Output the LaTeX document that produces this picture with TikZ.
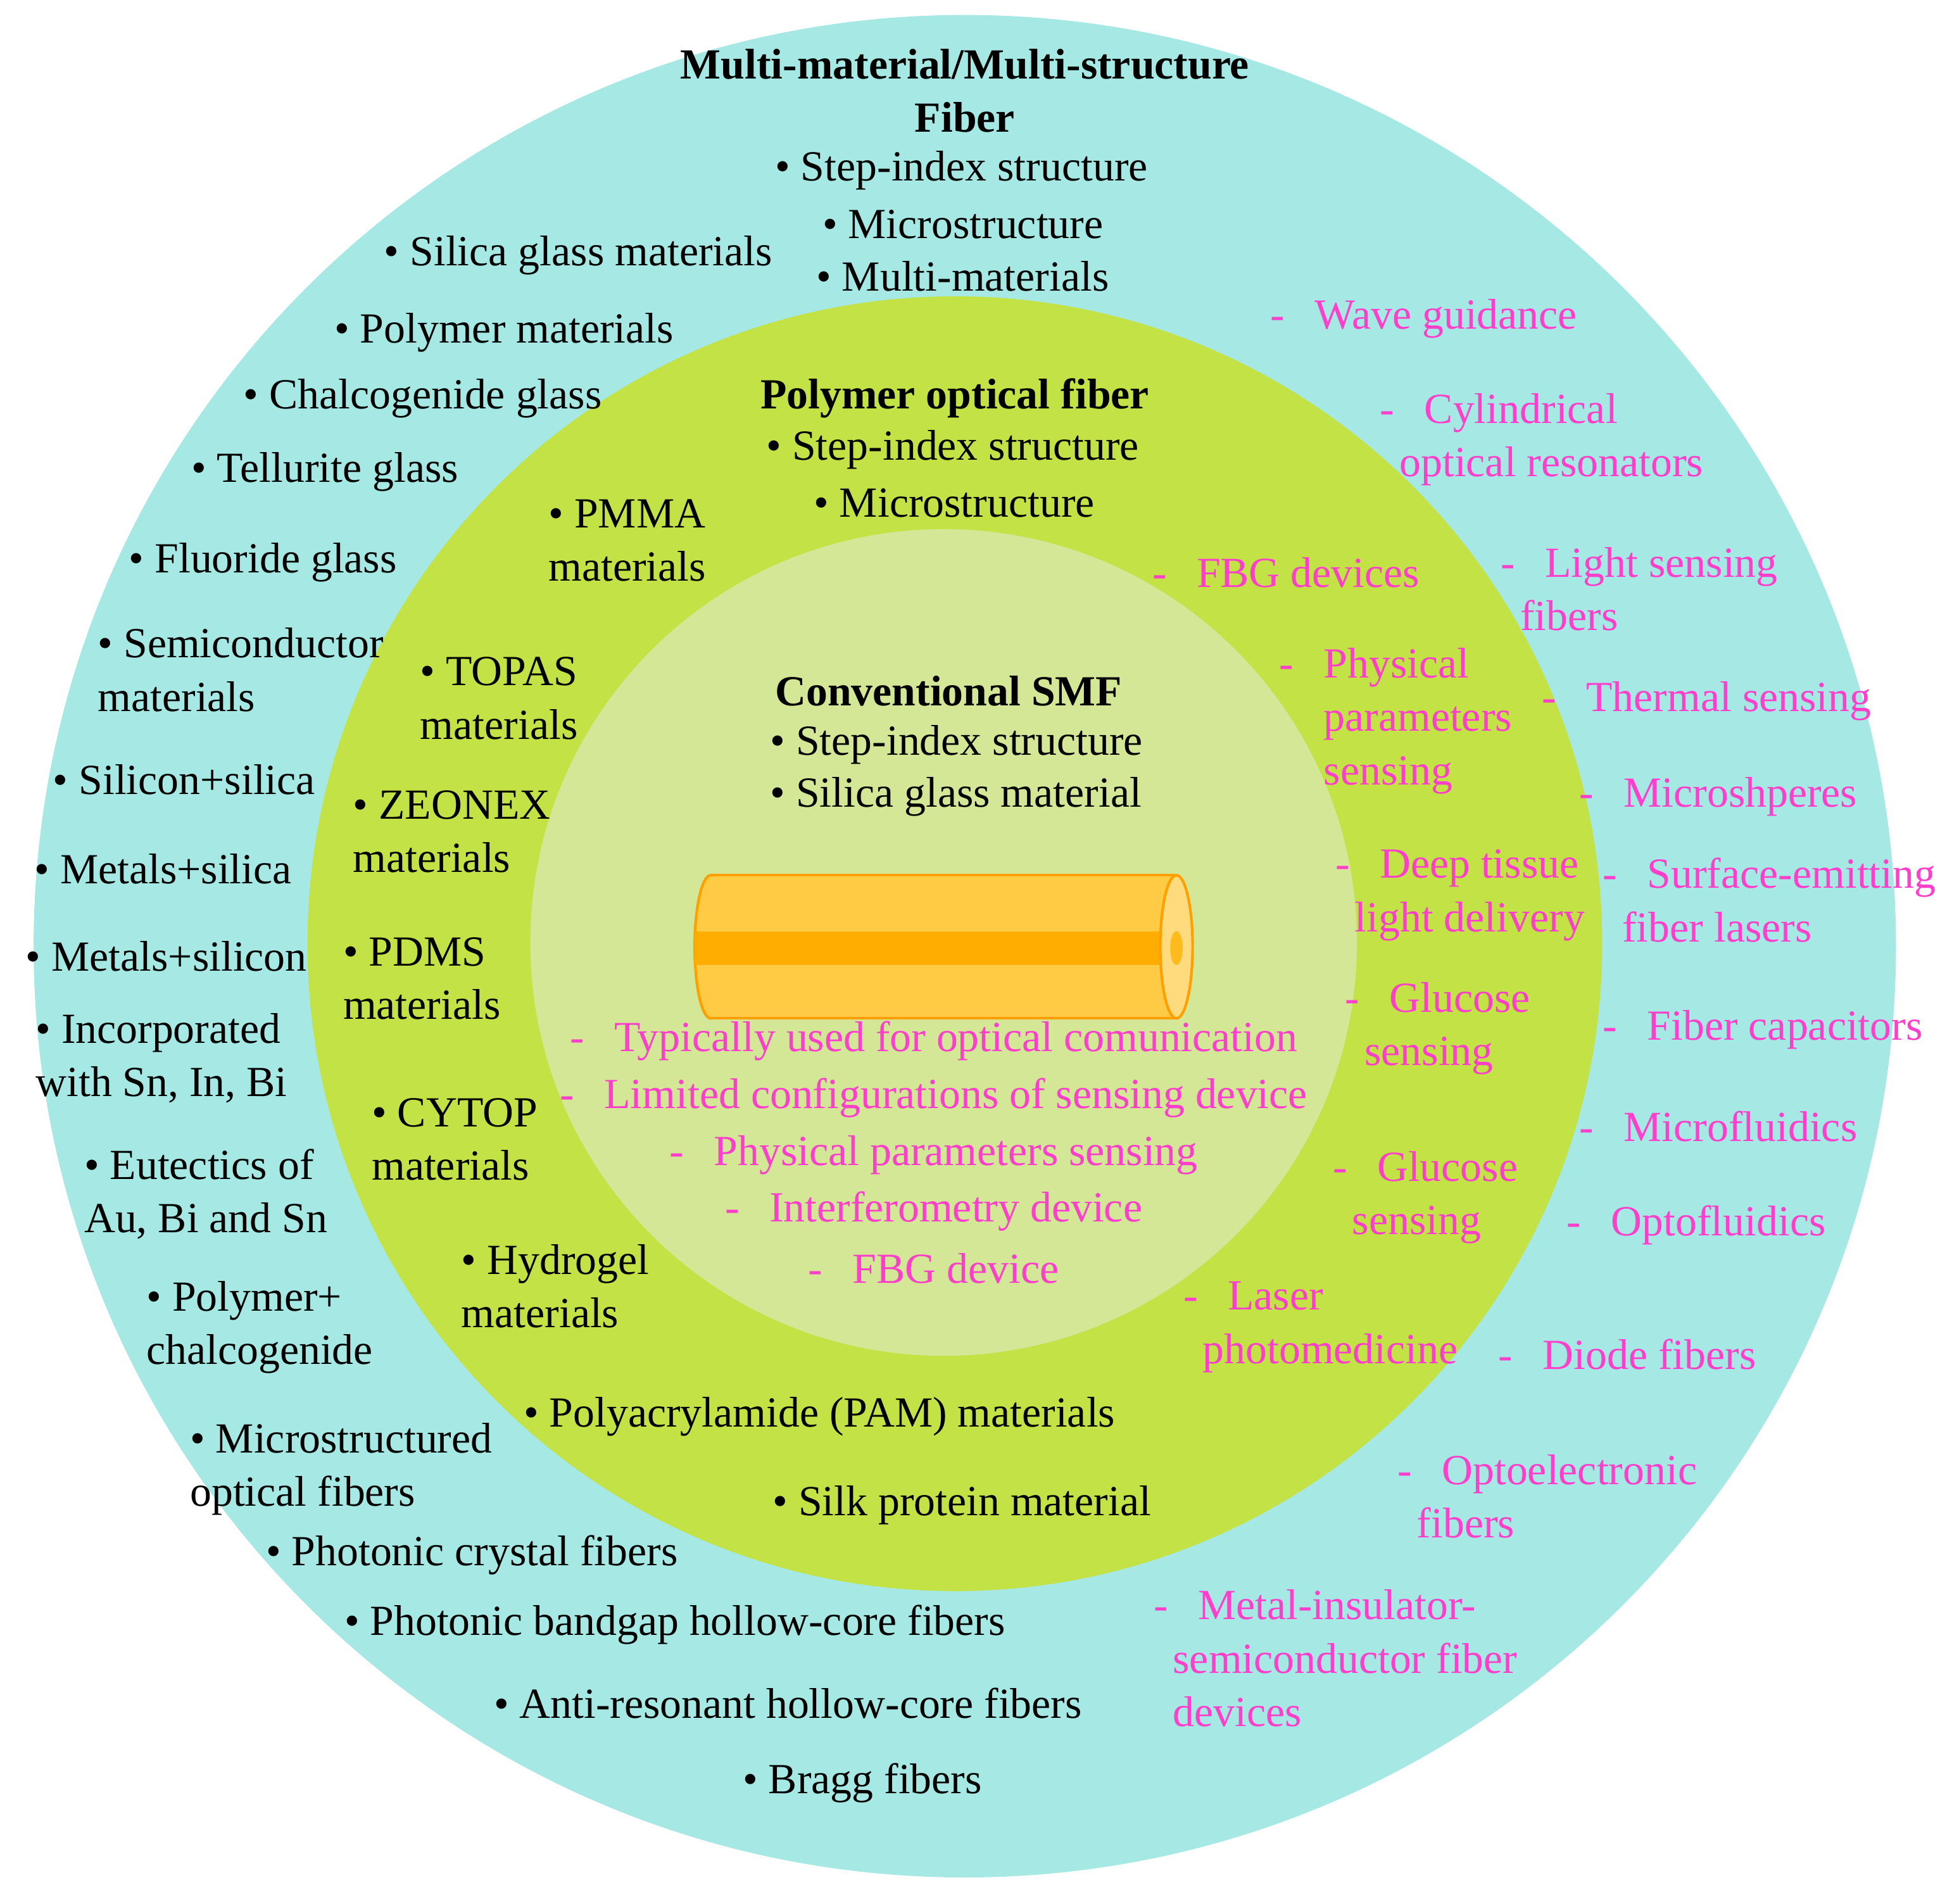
\documentclass[tikz,border=0pt]{standalone}
\usepackage{fontspec}
\setmainfont{Liberation Serif}
\definecolor{outerc}{HTML}{A6E8E4}
\definecolor{midc}{HTML}{C3E246}
\definecolor{innc}{HTML}{D3E797}
\definecolor{pinkc}{HTML}{FF3ECB}
\definecolor{fibc}{HTML}{FFCB45}
\definecolor{corec}{HTML}{FFAE00}
\definecolor{edgec}{HTML}{FFA000}
\newcommand{\pd}{-\hspace{0.7em}}
\newcommand{\ind}{\hspace*{0.45em}}
\begin{document}
\begin{tikzpicture}[x=0.01cm,y=-0.01cm,
  txt/.style={inner sep=0pt,anchor=west,align=left,font=\fontsize{9.8}{12.2}\selectfont},
  ptxt/.style={txt,text=pinkc},
  ctxt/.style={inner sep=0pt,align=center,font=\fontsize{9.8}{12.2}\selectfont},
  pc/.style={ctxt,text=pinkc}]
\useasboundingbox (0,0) rectangle (1568,1529);
\fill[outerc] (775,760) circle (748);
\fill[midc] (767,758) circle (520);
\fill[innc] (758,757) circle (332);
% fiber
\fill[fibc,draw=edgec,line width=0.6pt] (571,760.5) ellipse[x radius=13,y radius=57.5];
\fill[fibc] (571,703) rectangle (945,818);
\draw[edgec,line width=0.6pt] (571,703) -- (945,703) (571,818) -- (945,818);
\fill[corec] (558,748) rectangle (945,775);
\fill[fibc!70!white,draw=edgec,line width=0.6pt] (945,760.5) ellipse[x radius=13,y radius=57.5];
\fill[corec!60!fibc] (945,761.5) ellipse[x radius=5,y radius=13.5];
% outer
\node[ctxt,font=\bfseries\fontsize{9.8}{12.2}\selectfont] (t1) at (775,73) {Multi-material/Multi-structure\\Fiber};
\node[txt] (o1) at (622,137) {• Step-index structure};
\node[txt] (o2) at (660,180) {• Microstructure};
\node[txt] (o3) at (655,222) {• Multi-materials};
\node[txt] (o4) at (308,205) {• Silica glass materials};
\node[txt] (o5) at (268,267) {• Polymer materials};
\node[txt] (o6) at (195,320) {• Chalcogenide glass};
\node[txt] (o7) at (153,379) {• Tellurite glass};
\node[txt] (o8) at (103,452) {• Fluoride glass};
\node[txt] (o9) at (78,538) {• Semiconductor\\materials};
\node[txt] (o10) at (42,626) {• Silicon+silica};
\node[txt] (o11) at (27,698) {• Metals+silica};
\node[txt] (o12) at (20,768) {• Metals+silicon};
\node[txt] (o13) at (28,850) {• Incorporated\\with Sn, In, Bi};
\node[txt] (o14) at (67,959) {• Eutectics of\\Au, Bi and Sn};
\node[txt] (o15) at (117,1066) {• Polymer+\\chalcogenide};
\node[txt] (o16) at (152,1180) {• Microstructured\\optical fibers};
\node[txt] (o17) at (213,1249) {• Photonic crystal fibers};
\node[txt] (o18) at (276,1305) {• Photonic bandgap hollow-core fibers};
\node[txt] (o19) at (396,1368) {• Anti-resonant hollow-core fibers};
\node[txt] (o20) at (596,1432) {• Bragg fibers};
\node[ptxt] (p1) at (1020,256) {\pd Wave guidance};
\node[ptxt] (p2) at (1108,353) {\pd Cylindrical\\\ind optical resonators};
\node[ptxt] (p3) at (1205,473) {\pd Light sensing\\\ind fibers};
\node[ptxt] (p4) at (1238,563) {\pd Thermal sensing};
\node[ptxt] (p5) at (1268,640) {\pd Microshperes};
\node[ptxt] (p6) at (1287,723) {\pd Surface-emitting\\\ind fiber lasers};
\node[ptxt] (p7) at (1287,827) {\pd Fiber capacitors};
\node[ptxt] (p8) at (1268,905) {\pd Microfluidics};
\node[ptxt] (p9) at (1258,984) {\pd Optofluidics};
\node[ptxt] (p10) at (1203,1088) {\pd Diode fibers};
\node[ptxt] (p11) at (1122,1202) {\pd Optoelectronic\\\ind fibers};
\node[ptxt] (p12) at (926,1332) {\pd Metal-insulator-\\\ind semiconductor fiber\\\ind devices};
% middle
\node[ctxt,font=\bfseries\fontsize{9.8}{12.2}\selectfont] (t2) at (767,320) {Polymer optical fiber};
\node[txt] (m1) at (615,361) {• Step-index structure};
\node[txt] (m2) at (653,404) {• Microstructure};
\node[txt] (m3) at (440,434) {• PMMA\\materials};
\node[txt] (m4) at (337,561) {• TOPAS\\materials};
\node[txt] (m5) at (283,668) {• ZEONEX\\materials};
\node[txt] (m6) at (275,786) {• PDMS\\materials};
\node[txt] (m7) at (298,915) {• CYTOP\\materials};
\node[txt] (m8) at (370,1033) {• Hydrogel\\materials};
\node[txt] (m9) at (420,1138) {• Polyacrylamide (PAM) materials};
\node[txt] (m10) at (620,1209) {• Silk protein material};
\node[ptxt] (q1) at (925,460) {\pd FBG devices};
\node[ptxt] (q2) at (1027,579) {\pd Physical\\\phantom{-\hspace{0.7em}}parameters\\\phantom{-\hspace{0.7em}}sensing};
\node[ptxt] (q3) at (1072,719) {\pd Deep tissue\\\ind light delivery};
\node[ptxt] (q4) at (1080,826) {\pd Glucose\\\ind sensing};
\node[ptxt] (q5) at (1070,962) {\pd Glucose\\\ind sensing};
\node[ptxt] (q6) at (950,1066) {\pd Laser\\\ind photomedicine};
% inner
\node[ctxt,font=\bfseries\fontsize{9.8}{12.2}\selectfont] (t3) at (762,555) {Conventional SMF};
\node[txt] (i1) at (618,598) {• Step-index structure};
\node[txt] (i2) at (618,640) {• Silica glass material};
\node[pc] (r1) at (750,836) {\pd Typically used for optical comunication};
\node[pc] (r2) at (750,882) {\pd Limited configurations of sensing device};
\node[pc] (r3) at (750,928) {\pd Physical parameters sensing};
\node[pc] (r4) at (750,973) {\pd Interferometry device};
\node[pc] (r5) at (750,1019) {\pd FBG device};
\end{tikzpicture}
\end{document}
